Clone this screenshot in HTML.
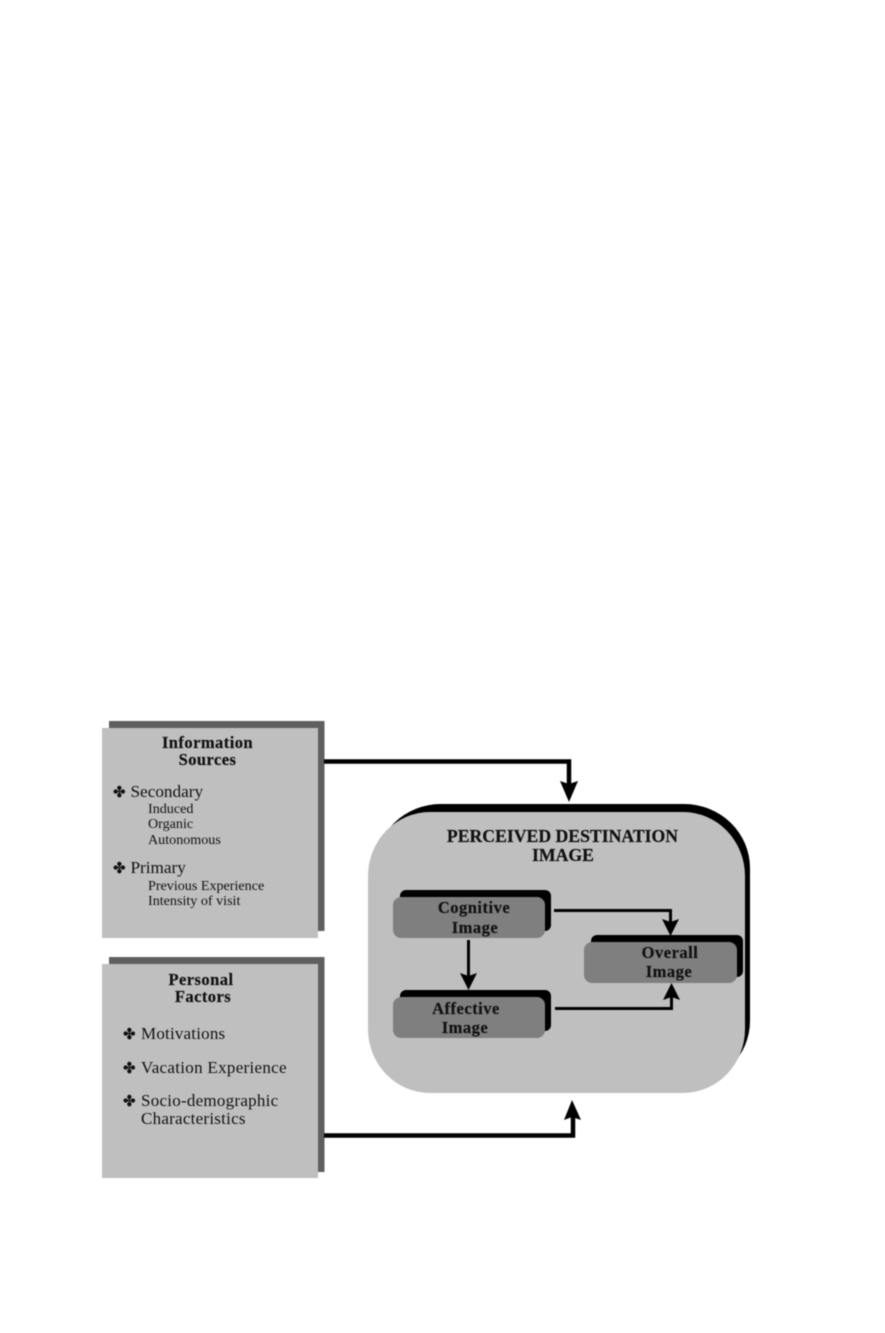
<!DOCTYPE html>
<html>
<head>
<meta charset="utf-8">
<style>
html,body{margin:0;padding:0;background:#fff;overflow:hidden}
svg{display:block;filter:blur(0.4px)}
text{font-family:"Liberation Serif",serif;fill:#111}
.b{font-weight:bold;stroke:#111;stroke-width:0.2}
.m{text-anchor:middle}
.s{font-family:"DejaVu Sans",sans-serif;stroke:#111;stroke-width:0.3}
</style>
</head>
<body>
<svg width="885" height="1333" viewBox="0 0 885 1333" xmlns="http://www.w3.org/2000/svg">
<rect width="885" height="1333" fill="#fff"/>

<!-- Information box -->
<rect x="109" y="721" width="215.500" height="210" fill="#5f5f5f"/>
<rect x="102" y="728" width="216" height="210" fill="#bfbfbf"/>
<text class="b m" x="207.500" y="748" font-size="16.500" letter-spacing="0.45">Information</text>
<text class="b m" x="207.500" y="765" font-size="16.500" letter-spacing="0.45">Sources</text>
<text class="s" x="113" y="797" font-size="15">✤</text>
<text x="130.500" y="797" font-size="17.200" letter-spacing="0">Secondary</text>
<text x="148" y="813" font-size="14.100">Induced</text>
<text x="148" y="828" font-size="14.100">Organic</text>
<text x="148" y="844" font-size="14.100">Autonomous</text>
<text class="s" x="113" y="873" font-size="15">✤</text>
<text x="130.500" y="873" font-size="17.200" letter-spacing="0">Primary</text>
<text x="148" y="890" font-size="14.100">Previous Experience</text>
<text x="148" y="905" font-size="14.100">Intensity of visit</text>

<!-- Personal box -->
<rect x="109" y="957" width="215.500" height="215" fill="#5f5f5f"/>
<rect x="102" y="964" width="216" height="214" fill="#bfbfbf"/>
<text class="b m" x="201" y="985" font-size="16.500" letter-spacing="0.45">Personal</text>
<text class="b m" x="203" y="1002" font-size="16.500" letter-spacing="0.45">Factors</text>
<text class="s" x="123" y="1039" font-size="15">✤</text>
<text x="141" y="1039" font-size="17" letter-spacing="0.2">Motivations</text>
<text class="s" x="123" y="1073" font-size="15">✤</text>
<text x="141" y="1073" font-size="17" letter-spacing="0.3">Vacation Experience</text>
<text class="s" x="123" y="1106" font-size="15">✤</text>
<text x="141" y="1106" font-size="17" letter-spacing="0.25">Socio-demographic</text>
<text x="141" y="1124" font-size="17" letter-spacing="0.25">Characteristics</text>

<!-- Main panel -->
<rect x="375" y="804" width="375" height="281" rx="66" ry="64" fill="#000"/>
<rect x="368" y="812" width="377" height="281" rx="62" ry="64" fill="#bfbfbf"/>
<text class="b m" x="562.500" y="842" font-size="17.700">PERCEIVED DESTINATION</text>
<text class="b m" x="563" y="861" font-size="17.700">IMAGE</text>

<!-- Cognitive -->
<rect x="400" y="890" width="151" height="41" rx="6" fill="#000"/>
<rect x="393" y="897" width="152" height="41" rx="8" fill="#7f7f7f"/>
<text class="b m" x="474" y="913" font-size="16.500" letter-spacing="0.5">Cognitive</text>
<text class="b m" x="475" y="933" font-size="16.500" letter-spacing="0.5">Image</text>

<!-- Affective -->
<rect x="400" y="990" width="151" height="41" rx="6" fill="#000"/>
<rect x="393" y="997" width="152" height="41" rx="8" fill="#7f7f7f"/>
<text class="b m" x="466" y="1014" font-size="16.500" letter-spacing="0.5">Affective</text>
<text class="b m" x="465" y="1033" font-size="16.500" letter-spacing="0.5">Image</text>

<!-- Overall -->
<rect x="591" y="935" width="152" height="42" rx="6" fill="#000"/>
<rect x="584" y="942" width="153" height="41" rx="8" fill="#7f7f7f"/>
<text class="b m" x="670" y="958" font-size="16.500" letter-spacing="0.5">Overall</text>
<text class="b m" x="669" y="977" font-size="16.500" letter-spacing="0.5">Image</text>

<!-- Thick connectors -->
<path d="M324 761.500H569V785" fill="none" stroke="#000" stroke-width="4.500"/>
<path d="M569 802L560 781L569 784L578 781Z" fill="#000"/>
<path d="M324 1135.500H573V1115" fill="none" stroke="#000" stroke-width="4.500"/>
<path d="M572 1100L564 1120L572 1117L581 1120Z" fill="#000"/>

<!-- Inner connectors -->
<path d="M554 910.500H670.500V928" fill="none" stroke="#000" stroke-width="3"/>
<path d="M670.500 936L662 919L670.500 922L679 919Z" fill="#000"/>
<path d="M468.500 940V977" fill="none" stroke="#000" stroke-width="3"/>
<path d="M468.500 990L460 973L468.500 976L477 973Z" fill="#000"/>
<path d="M555 1008.500H671.500V992" fill="none" stroke="#000" stroke-width="3"/>
<path d="M671.500 983L663 1000L671.500 997L680 1000Z" fill="#000"/>
</svg>
</body>
</html>
